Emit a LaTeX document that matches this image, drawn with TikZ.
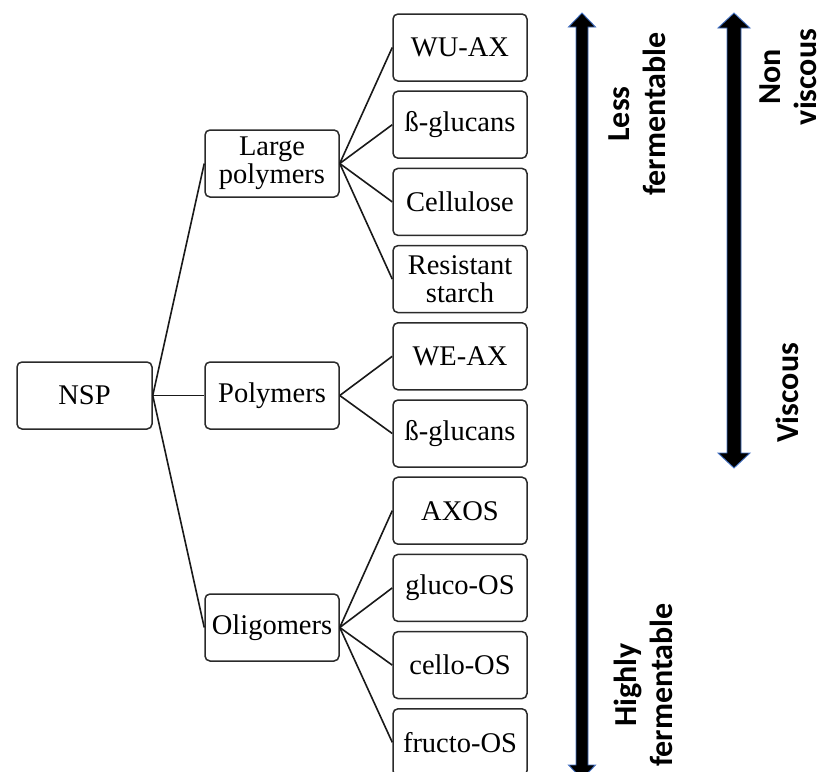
\documentclass[tikz,border=0pt]{standalone}
\usepackage{fontspec}
\setmainfont{Liberation Serif}
\newfontfamily\labfont{Carlito}
\definecolor{arrowblue}{HTML}{4472C4}
\definecolor{boxline}{HTML}{2A2A2A}
\newcommand\dblarrow[6]{% x, top, bottom, half shaft, half head, head length
  \path[fatarrow] ({#1-#4},{#2+#6}) -- ({#1-#5},{#2+#6}) -- (#1,#2) -- ({#1+#5},{#2+#6})
    -- ({#1+#4},{#2+#6}) -- ({#1+#4},{#3-#6}) -- ({#1+#5},{#3-#6}) -- (#1,#3)
    -- ({#1-#5},{#3-#6}) -- ({#1-#4},{#3-#6}) -- cycle;}
\begin{document}
\begin{tikzpicture}[x=1pt,y=-1pt,
  box/.style={draw=boxline, line width=1.5pt, rounded corners=5pt,
    minimum width=134pt, minimum height=67pt, align=center, inner sep=2pt,
    font=\fontsize{28.5}{28}\selectfont},
  link/.style={draw=black!90, line width=1.6pt},
  lab/.style={rotate=90, align=center, inner sep=0pt,
    font=\labfont\bfseries\fontsize{32}{36}\selectfont},
  fatarrow/.style={fill=black, draw=arrowblue, line width=0.9pt, line join=miter}]
\clip (0,0) rectangle (827,771);
\fill[white] (0,0) rectangle (827,771);

% left node
\node[box, minimum width=135pt] (nsp) at (84.5,395.5) {NSP};
% middle nodes
\node[box] (large) at (272,163.5) {Large\\polymers};
\node[box] (poly)  at (272,395.5) {Polymers};
\node[box] (oligo) at (272,627.5) {Oligomers};
% right nodes
\node[box] (wuax)  at (460,47.5)  {WU-AX};
\node[box] (bg1)   at (460,124.7) {ß-glucans};
\node[box] (cell)  at (460,201.9) {Cellulose};
\node[box] (rs)    at (460,279.1) {Resistant\\starch};
\node[box] (weax)  at (460,356.3) {WE-AX};
\node[box] (bg2)   at (460,433.5) {ß-glucans};
\node[box] (axos)  at (460,510.7) {AXOS};
\node[box] (gos)   at (460,587.9) {gluco-OS};
\node[box] (cos)   at (460,665.1) {cello-OS};
\node[box] (fos)   at (460,742.3) {fructo-OS};

% connectors
\draw[link] (nsp.east) -- (large.west);
\draw[link] (nsp.east) -- (poly.west);
\draw[link] (nsp.east) -- (oligo.west);
\foreach \c in {wuax,bg1,cell,rs} \draw[link] (large.east) -- (\c.west);
\foreach \c in {weax,bg2} \draw[link] (poly.east) -- (\c.west);
\foreach \c in {axos,gos,cos,fos} \draw[link] (oligo.east) -- (\c.west);

% big double arrows
\dblarrow{582}{13}{779}{6}{13.5}{14}
\dblarrow{734}{13}{468}{7}{16}{15}

% labels
\node[lab] (lessferm) at (637,114) {Less\\fermentable};
\node[lab] (highferm) at (643,685) {Highly\\fermentable};
\node[lab] (nonvisc)  at (788,77)  {Non\\viscous};
\node[lab] (visc)     at (787,393) {Viscous};
\end{tikzpicture}
\end{document}
